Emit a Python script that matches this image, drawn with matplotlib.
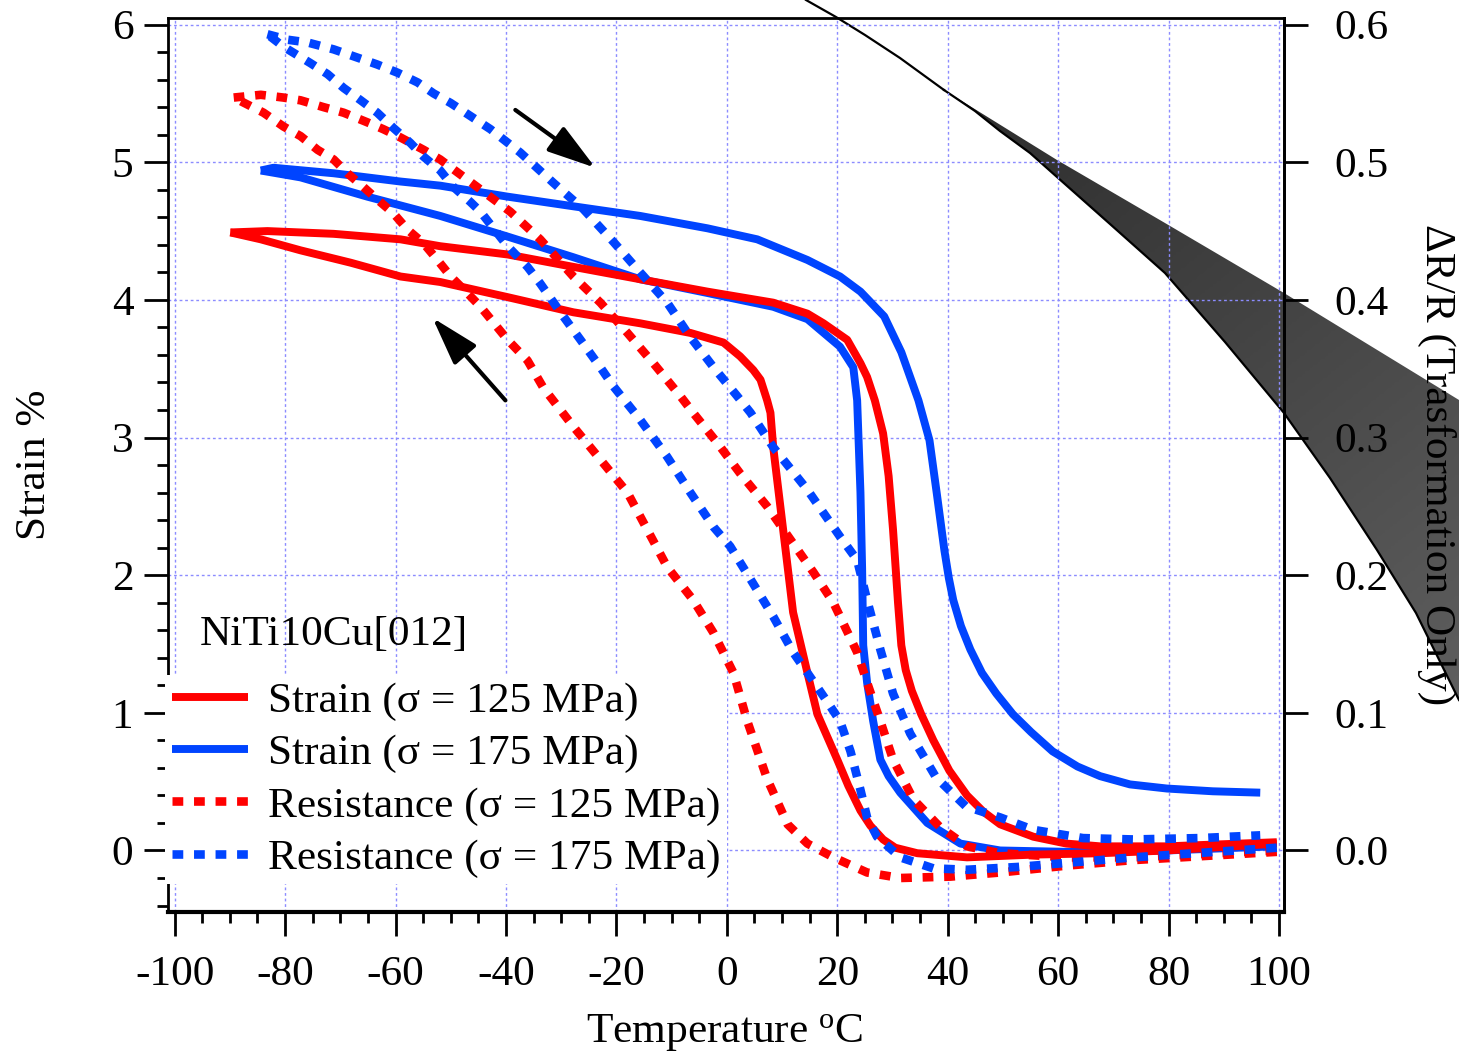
import numpy as np
import matplotlib
matplotlib.use("Agg")
import matplotlib.pyplot as plt
from matplotlib.patches import Polygon
from matplotlib.ticker import MultipleLocator

# ---------------- data ----------------
# Strain, sigma = 125 MPa : cooling branch (high T -> low T)
t_s125_cool = [99.6, 79.7, 67.6, 55.5, 43.5, 34.5, 30.5, 28.3, 26.0, 24.2, 22.0, 20.0, 16.4, 14.6, 12.0,
               10.2, 8.4, 7.9, 7.3, 6.1, 4.8, 2.4, -0.6, -6.6, -15.7, -27.8, -39.7, -51.9, -59.1, -68.1,
               -77.2, -84.4, -89.9]
s_s125_cool = [0.05, 0.00, -0.02, -0.03, -0.05, -0.02, 0.02, 0.08, 0.18, 0.29, 0.47, 0.66, 0.99, 1.29,
               1.73, 2.33, 2.93, 3.18, 3.27, 3.42, 3.49, 3.59, 3.69, 3.76, 3.83, 3.91, 4.02, 4.13, 4.17,
               4.27, 4.36, 4.44, 4.49]
# Strain, sigma = 125 MPa : heating branch (low T -> high T)
t_s125_heat = [-89.9, -83.2, -71.2, -59.1, -51.9, -39.7, -27.8, -15.7, -3.5, 8.4, 14.6, 17.5, 21.8, 24.2,
               25.4, 26.8, 28.3, 29.3, 30.1, 31.0, 31.6, 32.4, 33.5, 35.2, 37.4, 40.3, 43.5, 46.5, 49.5,
               55.5, 61.5, 67.6, 79.7, 99.6]
s_s125_heat = [4.49, 4.50, 4.48, 4.44, 4.39, 4.33, 4.24, 4.15, 4.06, 3.98, 3.90, 3.83, 3.71, 3.54,
               3.44, 3.27, 3.03, 2.72, 2.33, 1.80, 1.49, 1.31, 1.16, 0.99, 0.80, 0.58, 0.40, 0.28, 0.19,
               0.10, 0.05, 0.03, 0.03, 0.06]
# Strain, sigma = 175 MPa : heating branch
t_s175_heat = [-84.4, -82.1, -71.2, -59.1, -51.9, -39.7, -27.8, -15.7, -3.5, 5.5, 14.6, 20.5, 24.2, 28.5,
               31.6, 34.7, 36.7, 38.0, 39.4, 40.2, 41.0, 42.4, 44.1, 46.2, 48.8, 51.8, 55.1, 59.0, 63.5,
               67.6, 73.0, 79.7, 88.0, 96.6]
s_s175_heat = [4.94, 4.96, 4.92, 4.86, 4.83, 4.75, 4.68, 4.61, 4.52, 4.44, 4.29, 4.17, 4.06, 3.88,
               3.62, 3.27, 2.98, 2.60, 2.18, 1.98, 1.82, 1.63, 1.46, 1.29, 1.14, 0.99, 0.86, 0.72, 0.61,
               0.54, 0.48, 0.45, 0.43, 0.42]
# Strain, sigma = 175 MPa : cooling branch
t_s175_cool = [99.0, 79.7, 61.6, 49.5, 42.3, 36.3, 31.4, 29.3, 27.8, 26.5, 25.4, 24.7, 24.5, 24.2, 23.6,
               22.9, 20.5, 14.6, 8.4, -3.5, -15.7, -27.8, -39.7, -51.9, -65.1, -77.2, -84.4]
s_s175_cool = [0.03, 0.00, -0.01, 0.00, 0.05, 0.20, 0.42, 0.54, 0.66, 0.94, 1.22, 1.49, 2.05, 2.60, 3.27,
               3.51, 3.66, 3.86, 3.95, 4.05, 4.15, 4.31, 4.46, 4.61, 4.75, 4.89, 4.94]

# Resistance dR/R, sigma = 125 MPa : cooling branch
t_r125_cool = [99.6, 73.6, 61.6, 49.5, 40.5, 31.4, 25.4, 19.3, 14.6, 13.3, 11.0, 7.3, 3.7, 1.2, -2.4, -6.1,
               -10.8, -14.4, -18.0, -22.9, -27.8, -33.2, -36.1, -39.7, -44.6, -47.0, -50.0, -52.4, -54.9,
               -57.8, -60.4, -63.3, -65.8, -68.7, -71.2, -74.1, -77.2, -80.3, -83.9, -89.3]
r_r125_cool = [-0.001, -0.007, -0.011, -0.016, -0.019, -0.020, -0.016, -0.005, 0.005, 0.010, 0.019, 0.052,
               0.094, 0.129, 0.158, 0.182, 0.206, 0.233, 0.260, 0.284, 0.308, 0.336, 0.356, 0.371, 0.395,
               0.405, 0.417, 0.429, 0.441, 0.451, 0.463, 0.473, 0.482, 0.492, 0.502, 0.509, 0.519, 0.526,
               0.536, 0.547]
# Resistance dR/R, sigma = 125 MPa : heating branch
t_r125_heat = [-89.3, -84.4, -80.3, -77.2, -73.0, -69.4, -65.1, -62.2, -59.1, -54.9, -51.9, -45.2, -39.2,
               -33.8, -27.8, -22.9, -18.0, -13.3, -8.4, -6.1, -1.7, 2.4, 7.3, 11.5, 15.7, 19.3, 23.6, 25.4,
               27.8, 30.1, 33.8, 38.6, 43.5, 49.5, 61.6, 73.6, 99.6]
r_r125_heat = [0.547, 0.549, 0.547, 0.545, 0.540, 0.536, 0.529, 0.524, 0.518, 0.509, 0.502, 0.482, 0.464,
               0.444, 0.417, 0.398, 0.376, 0.354, 0.330, 0.318, 0.296, 0.274, 0.250, 0.226, 0.202, 0.180,
               0.144, 0.122, 0.094, 0.066, 0.037, 0.017, 0.003, -0.002, -0.005, -0.005, 0.000]
# Resistance dR/R, sigma = 175 MPa : cooling branch
t_r175_cool = [99.6, 73.6, 61.6, 52.6, 43.5, 37.4, 31.4, 27.2, 25.4, 24.2, 22.4, 20.5, 18.2, 14.6, 12.0,
               8.4, 4.3, 0.6, -2.4, -6.6, -10.8, -15.7, -20.5, -22.9, -26.5, -29.6, -33.8, -36.1, -39.7,
               -44.6, -46.4, -49.5, -51.9, -54.9, -57.3, -60.4, -63.3, -66.3, -69.4, -72.3, -75.4, -80.3,
               -83.2]
r_r175_cool = [0.002, -0.005, -0.009, -0.012, -0.014, -0.013, -0.005, 0.010, 0.024, 0.044, 0.072, 0.094,
               0.108, 0.129, 0.144, 0.170, 0.197, 0.221, 0.235, 0.260, 0.286, 0.313, 0.337, 0.351, 0.371,
               0.388, 0.412, 0.424, 0.439, 0.464, 0.471, 0.482, 0.494, 0.504, 0.514, 0.525, 0.536, 0.545,
               0.554, 0.564, 0.572, 0.584, 0.593]
# Resistance dR/R, sigma = 175 MPa : heating branch
t_r175_heat = [-83.2, -79.5, -75.9, -71.2, -67.6, -63.3, -59.6, -56.0, -53.1, -50.0, -42.8, -37.4, -31.4,
               -26.0, -20.5, -15.7, -10.8, -6.6, -2.4, 1.9, 4.3, 8.4, 14.6, 20.5, 23.6, 25.4, 27.8, 30.1,
               33.2, 37.9, 43.3, 49.5, 55.5, 64.5, 73.6, 85.7, 96.6]
r_r175_heat = [0.593, 0.589, 0.587, 0.582, 0.577, 0.571, 0.565, 0.558, 0.550, 0.543, 0.524, 0.507, 0.485,
               0.466, 0.442, 0.420, 0.398, 0.373, 0.351, 0.330, 0.318, 0.293, 0.262, 0.228, 0.211, 0.182,
               0.146, 0.114, 0.085, 0.053, 0.032, 0.024, 0.015, 0.009, 0.008, 0.009, 0.011]

legend_labels = ["Strain (σ = 125 MPa)", "Strain (σ = 175 MPa)",
                 "Resistance (σ = 125 MPa)", "Resistance (σ = 175 MPa)"]
sample_label = "NiTi10Cu[012]"
x_label = "Temperature $^{\\mathrm{o}}$C"
y_label = "Strain %"
y2_label = "ΔR/R (Trasformation Only)"
x_ticks = [-100, -80, -60, -40, -20, 0, 20, 40, 60, 80, 100]
y_ticks = [0, 1, 2, 3, 4, 5, 6]
y2_ticks = [0.0, 0.1, 0.2, 0.3, 0.4, 0.5, 0.6]

# decorative dark band (figure pixel outline, y downward)
band_line_x = [806, 836, 865, 900, 944]
band_line_y = [0, 17, 35, 58, 90]
band_upper_x = [944, 1057, 1165, 1284, 1459]
band_upper_y = [90, 160, 223, 293, 400]
band_lower_x = [944, 975, 1000, 1030, 1057, 1110, 1165, 1225, 1284, 1330, 1377, 1416, 1459]
band_lower_y = [90, 111, 131, 153, 177, 224, 273, 342, 413, 478, 550, 613, 700]

# ---------------- styling ----------------
RED = "#ff0000"
BLUE = "#0044ff"
plt.rcParams["font.family"] = ["Liberation Serif", "DejaVu Serif"]
plt.rcParams["mathtext.fontset"] = "custom"
plt.rcParams["mathtext.rm"] = "Liberation Serif"
plt.rcParams["mathtext.it"] = "Liberation Serif:italic"
FS = 31.2

W, H = 1459, 1052
fig = plt.figure(figsize=(W / 100, H / 100), dpi=100)
fig.patch.set_facecolor("white")

# background decorative band
bg = fig.add_axes([0, 0, 1, 1], zorder=0)
bg.set_xlim(0, W)
bg.set_ylim(H, 0)
bg.axis("off")
poly_x = band_upper_x + band_lower_x[::-1]
poly_y = band_upper_y + band_lower_y[::-1]
poly = Polygon(np.column_stack([poly_x, poly_y]), closed=True, facecolor="none", edgecolor="none")
bg.add_patch(poly)
gx, gy = np.meshgrid(np.linspace(0, 1, 200), np.linspace(0, 1, 200))
grad = 0.6 * gy + 0.4 * gx
img = bg.imshow(grad, extent=[944, 1459, 700, 90], cmap=matplotlib.colors.LinearSegmentedColormap.from_list(
    "g", ["#2c2c2c", "#5e5e5e"]), vmin=0, vmax=1, aspect="auto", zorder=1)
img.set_clip_path(poly)
bg.plot(band_line_x, band_line_y, color="black", lw=1.6, zorder=2)
bg.plot(band_lower_x, band_lower_y, color="black", lw=1.6, zorder=2)
bg.set_xlim(0, W)
bg.set_ylim(H, 0)

left, right = 168 / W, 1284 / W
bottom, top = 1 - 912 / H, 1 - 18 / H
ax = fig.add_axes([left, bottom, right - left, top - bottom], zorder=1)
ax.patch.set_visible(False)
ax2 = ax.twinx()
ax2.patch.set_visible(False)

ax.set_xlim(-101.2, 100.9)
ax.set_ylim(-0.447, 6.048)
ax2.set_ylim(-0.0447, 0.6048)

solid_lw = 5.7
dot_lw = 6.2
dots = (0, (1.25, 1.25))

kw = dict(solid_joinstyle="round", solid_capstyle="butt")
l1, = ax.plot(t_s125_cool, s_s125_cool, color=RED, lw=solid_lw, zorder=3, **kw)
ax.plot(t_s125_heat, s_s125_heat, color=RED, lw=solid_lw, zorder=3, **kw)
l2, = ax.plot(t_s175_heat, s_s175_heat, color=BLUE, lw=solid_lw, zorder=3, **kw)
ax.plot(t_s175_cool, s_s175_cool, color=BLUE, lw=solid_lw, zorder=2.9, **kw)

l3, = ax2.plot(t_r125_cool, r_r125_cool, color=RED, lw=dot_lw, linestyle=dots)
ax2.plot(t_r125_heat, r_r125_heat, color=RED, lw=dot_lw, linestyle=dots)
l4, = ax2.plot(t_r175_cool, r_r175_cool, color=BLUE, lw=dot_lw, linestyle=dots)
ax2.plot(t_r175_heat, r_r175_heat, color=BLUE, lw=dot_lw, linestyle=dots)

# grid
ax.set_xticks(x_ticks)
ax.set_yticks(y_ticks)
ax.grid(True, which="major", color="#8c8cff", linestyle=(0, (2, 2)), lw=1.0)
ax.set_axisbelow(True)

# ticks
ax.xaxis.set_minor_locator(MultipleLocator(5))
ax.yaxis.set_minor_locator(MultipleLocator(0.2))
ax.tick_params(axis="x", which="major", direction="out", length=17, width=2, labelsize=FS, pad=14)
ax.tick_params(axis="x", which="minor", direction="out", length=8, width=2)
ax.tick_params(axis="y", which="major", direction="out", length=17, width=2, labelsize=FS, pad=8)
ax.tick_params(axis="y", which="minor", direction="out", length=8, width=2)
ax.set_xticklabels([str(v) for v in x_ticks])
ax.set_yticklabels([str(v) for v in y_ticks])
ax2.set_yticks(y2_ticks)
ax2.set_yticklabels([f"{v:.1f}" for v in y2_ticks])
ax2.tick_params(axis="y", which="major", direction="out", length=17, width=2, labelsize=FS, pad=19)

for sp in ["left", "right", "top"]:
    ax.spines[sp].set_linewidth(2)
ax.spines["bottom"].set_linewidth(3)
for sp in ax2.spines.values():
    sp.set_visible(False)
ax2.spines["right"].set_visible(True)
ax2.spines["right"].set_linewidth(2)

ax.set_xlabel(x_label, fontsize=FS)
ax.xaxis.set_label_coords(0.499, -0.112)
ax.set_ylabel(y_label, fontsize=FS, va="center")
ax.yaxis.set_label_coords(-0.119, 0.5)
ax2.set_ylabel(y2_label, fontsize=FS, rotation=270, va="center")
ax2.yaxis.set_label_coords(1.137, 0.5)

ax.text(-95.5, 1.57, sample_label, fontsize=FS, va="center", ha="left")

# arrows
arrow_style = "-|>,head_length=0.85,head_width=0.26"
ax.annotate("", xy=(-23.8, 4.96), xytext=(-38.3, 5.38),
            arrowprops=dict(arrowstyle=arrow_style, lw=3.0, color="black",
                            mutation_scale=35, shrinkA=0, shrinkB=0))
ax.annotate("", xy=(-53.3, 3.87), xytext=(-40.1, 3.27),
            arrowprops=dict(arrowstyle=arrow_style, lw=3.0, color="black",
                            mutation_scale=35, shrinkA=0, shrinkB=0))

leg = ax2.legend([l1, l2, l3, l4], legend_labels, loc="upper left",
                 bbox_to_anchor=(165 / W, 1 - 675 / H), bbox_transform=fig.transFigure,
                 fontsize=FS, frameon=True, fancybox=False, borderaxespad=0, borderpad=0.15,
                 handlelength=1.77, handletextpad=0.45, labelspacing=0.3)
leg.get_frame().set_facecolor("white")
leg.get_frame().set_edgecolor("none")
leg.get_frame().set_alpha(1)

fig.savefig("out.png", dpi=100, facecolor="white")
